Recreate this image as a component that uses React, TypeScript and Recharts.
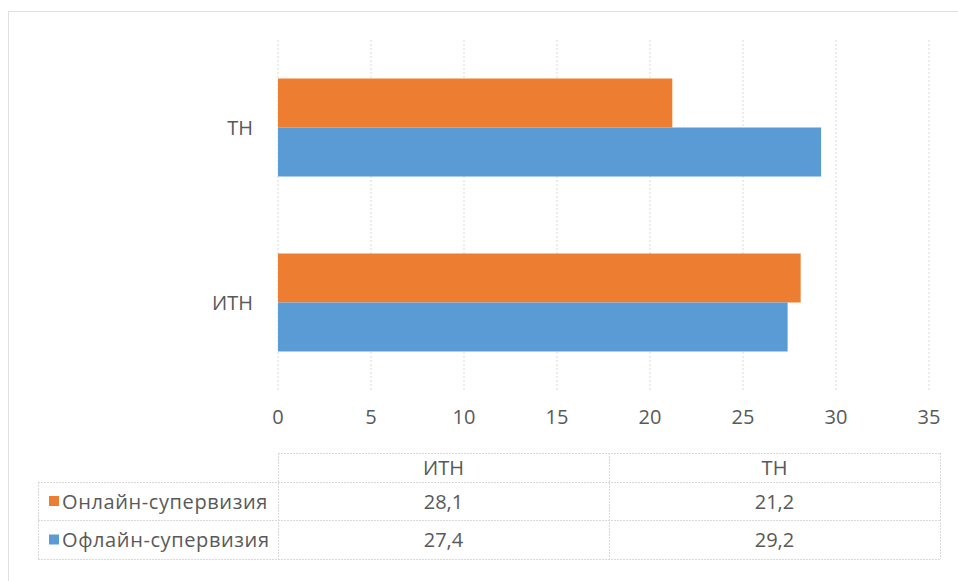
import React from 'react';
import { BarChart, Bar, XAxis, YAxis, CartesianGrid } from 'recharts';

const categories = ['ИТН', 'ТН'];
const onlineValues = [28.1, 21.2];
const offlineValues = [27.4, 29.2];
const xTicks = [0, 5, 10, 15, 20, 25, 30, 35];

const seriesNames = ['Онлайн-супервизия', 'Офлайн-супервизия'];
const seriesColors = ['#ED7D31', '#5B9BD5'];

const FONT = '"Open Sans", "Noto Sans", sans-serif';
const TEXT = '#595959';
const GRID = '#d9d9d9';
const FS = 20;

const W = 958;
const H = 581;

// table geometry
const colX = [38, 278, 609, 940];
const rowY = [453, 482, 520, 559];

const fmt = (v: number) => v.toFixed(1).replace('.', ',');

const DataTable: React.FC = () => {
  const rows = [onlineValues, offlineValues];
  const dash = '2 1';
  return (
    <svg width={W} height={H} style={{ position: 'absolute', left: 0, top: 0, pointerEvents: 'none' }}>
      {/* horizontal lines */}
      <line x1={colX[1]} x2={colX[3]} y1={rowY[0] + 0.5} y2={rowY[0] + 0.5} stroke={GRID} strokeDasharray={dash} />
      {rowY.slice(1).map((y) => (
        <line key={y} x1={colX[0]} x2={colX[3]} y1={y + 0.5} y2={y + 0.5} stroke={GRID} strokeDasharray={dash} />
      ))}
      {/* vertical lines */}
      <line x1={colX[0] + 0.5} x2={colX[0] + 0.5} y1={rowY[1]} y2={rowY[3]} stroke={GRID} strokeDasharray={dash} />
      {colX.slice(1).map((x) => (
        <line key={x} x1={x + 0.5} x2={x + 0.5} y1={rowY[0]} y2={rowY[3]} stroke={GRID} strokeDasharray={dash} />
      ))}
      {/* header */}
      {categories.map((c, i) => (
        <text
          key={c}
          x={(colX[i + 1] + colX[i + 2]) / 2}
          y={(rowY[0] + rowY[1]) / 2}
          textAnchor="middle"
          dominantBaseline="central"
          fontFamily={FONT}
          fontSize={FS}
          fill={TEXT}
        >
          {c}
        </text>
      ))}
      {/* rows */}
      {rows.map((vals, r) => {
        const cy = (rowY[r + 1] + rowY[r + 2]) / 2;
        return (
          <g key={r}>
            <rect x={49} y={cy - 5} width={10} height={10} fill={seriesColors[r]} />
            <text
              x={62}
              y={cy}
              dominantBaseline="central"
              fontFamily={FONT}
              fontSize={FS}
              letterSpacing={0.6}
              fill={TEXT}
            >
              {seriesNames[r]}
            </text>
            {vals.map((v, i) => (
              <text
                key={i}
                x={(colX[i + 1] + colX[i + 2]) / 2}
                y={cy}
                textAnchor="middle"
                dominantBaseline="central"
                fontFamily={FONT}
                fontSize={FS}
                fill={TEXT}
              >
                {fmt(v)}
              </text>
            ))}
          </g>
        );
      })}
    </svg>
  );
};

const App: React.FC = () => {
  const data = categories.map((name, i) => ({
    name,
    online: onlineValues[i],
    offline: offlineValues[i],
  }));

  return (
    <div style={{ position: 'absolute', left: 0, top: 0, width: W, height: H, background: '#fff', overflow: 'hidden' }}>
      <div
        style={{
          position: 'absolute',
          left: 8,
          top: 11,
          width: W,
          height: H,
          borderLeft: '1px solid #e0e0e0',
          borderTop: '1px solid #e0e0e0',
        }}
      />
      <BarChart
        width={W}
        height={H}
        data={data}
        layout="vertical"
        margin={{ top: 40, right: 29, left: 0, bottom: 161 }}
        barCategoryGap="22%"
        barGap={0}
        style={{ position: 'absolute', left: 0, top: 0 }}
      >
        <CartesianGrid horizontal={false} stroke={GRID} strokeDasharray="2 2" />
        <XAxis
          type="number"
          domain={[0, 35]}
          ticks={xTicks}
          axisLine={false}
          tickLine={false}
          tickSize={0}
          tickMargin={20}
          height={30}
          tick={{ fill: TEXT, fontSize: FS, fontFamily: FONT }}
        />
        <YAxis
          type="category"
          dataKey="name"
          reversed
          width={278}
          axisLine={false}
          tickLine={false}
          tickSize={0}
          tickMargin={25}
          tick={{ fill: TEXT, fontSize: FS, fontFamily: FONT }}
        />
        <Bar dataKey="online" name={seriesNames[0]} fill={seriesColors[0]} isAnimationActive={false} />
        <Bar dataKey="offline" name={seriesNames[1]} fill={seriesColors[1]} isAnimationActive={false} />
      </BarChart>
      <DataTable />
    </div>
  );
};

export default App;
